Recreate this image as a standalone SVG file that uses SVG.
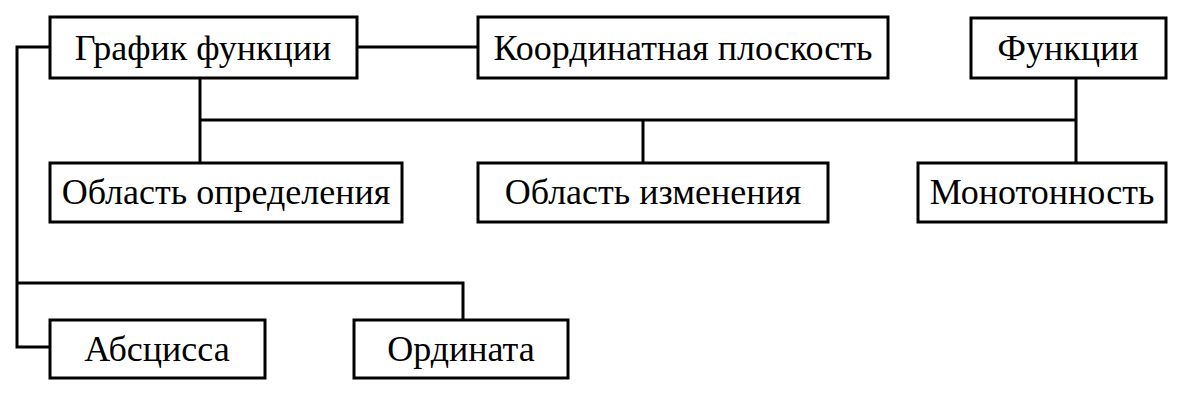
<svg xmlns="http://www.w3.org/2000/svg" width="1190" height="400" viewBox="0 0 1190 400">
<style>
.box{fill:#fff;stroke:#000;stroke-width:3}
.lbl{font-family:"Liberation Serif","Times New Roman",serif;font-size:36px;fill:#000;text-anchor:middle}
.con{fill:none;stroke:#000;stroke-width:3}
</style>
<rect width="1190" height="400" fill="#fff"/>
<g id="connectors">
<path class="con" d="M357,47 H478"/>
<path class="con" d="M50,47 H17 V347 H50"/>
<path class="con" d="M200,78 V163"/>
<path class="con" d="M200,120 H1076"/>
<path class="con" d="M643,120 V163"/>
<path class="con" d="M1076,78 V163"/>
<path class="con" d="M17,283 H463 V320"/>
</g>
<g id="n_grafik"><rect class="box" x="50" y="17" width="307" height="61"/><text class="lbl" x="203" y="60">График функции</text></g>
<g id="n_koord"><rect class="box" x="478" y="17" width="410" height="61"/><text class="lbl" x="683" y="60">Координатная плоскость</text></g>
<g id="n_funk"><rect class="box" x="971" y="18" width="195" height="60"/><text class="lbl" x="1068" y="60">Функции</text></g>
<g id="n_oblopr"><rect class="box" x="50" y="163" width="352" height="59"/><text class="lbl" x="226" y="204">Область определения</text></g>
<g id="n_oblizm"><rect class="box" x="478" y="163" width="350" height="59"/><text class="lbl" x="653" y="204">Область изменения</text></g>
<g id="n_monot"><rect class="box" x="918" y="163" width="248" height="59"/><text class="lbl" x="1042" y="204">Монотонность</text></g>
<g id="n_abs"><rect class="box" x="50" y="320" width="215" height="58"/><text class="lbl" x="157" y="361">Абсцисса</text></g>
<g id="n_ord"><rect class="box" x="354" y="320" width="214" height="58"/><text class="lbl" x="461" y="361">Ордината</text></g>
</svg>
